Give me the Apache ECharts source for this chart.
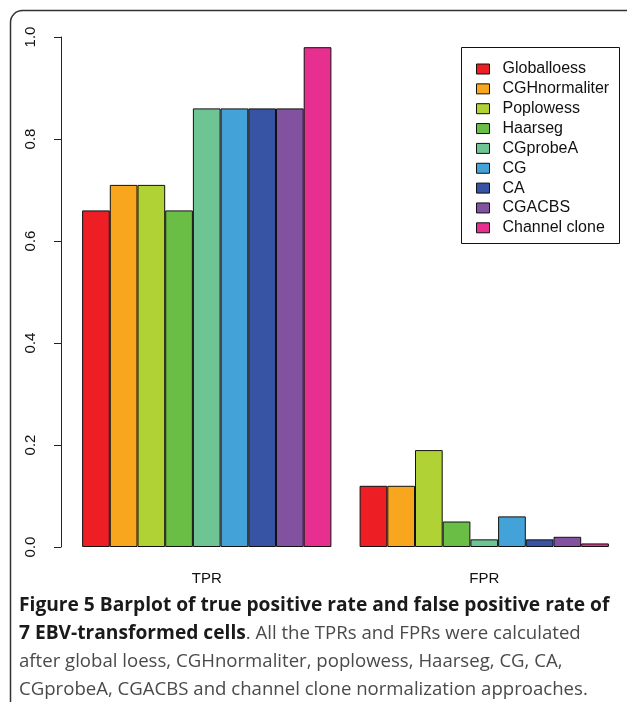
<!DOCTYPE html>
<html>
<head>
<meta charset="utf-8">
<script src="https://cdn.jsdelivr.net/npm/echarts@6/dist/echarts.min.js"></script>
<style>
  html, body { margin: 0; padding: 0; background: #fff; }
  #chart { width: 627px; height: 702px; }
</style>
</head>
<body>
<div id="chart"></div>
<script>
// Rate categories on the x axis
const categories = ['TPR', 'FPR'];

// Normalization methods (one bar series each)
const methods = ['Globalloess', 'CGHnormaliter', 'Poplowess', 'Haarseg', 'CGprobeA', 'CG', 'CA', 'CGACBS', 'Channel clone'];

// [TPR, FPR] for each method
const globalloess  = [0.66, 0.12];
const cghnormaliter = [0.71, 0.12];
const poplowess    = [0.71, 0.19];
const haarseg      = [0.66, 0.05];
const cgprobeA     = [0.86, 0.015];
const cg           = [0.86, 0.06];
const ca           = [0.86, 0.015];
const cgacbs       = [0.86, 0.02];
const channelClone = [0.98, 0.007];

const seriesValues = [globalloess, cghnormaliter, poplowess, haarseg, cgprobeA, cg, ca, cgacbs, channelClone];

const methodColors = ['#ED1F24', '#F9A61F', '#B1D235', '#6ABD45', '#6FC494', '#43A3D9', '#3753A3', '#8252A0', '#E62F8F'];

// Y axis tick labels
const yTicks = ['0.0', '0.2', '0.4', '0.6', '0.8', '1.0'];

const chart = echarts.init(document.getElementById('chart'), null, { renderer: 'canvas' });

const axisFont = 'Liberation Sans, Arial, sans-serif';
const captionFont = '"Open Sans", sans-serif';

const series = methods.map((name, i) => ({
  name: name,
  type: 'bar',
  data: seriesValues[i],
  barWidth: 27.7,
  barGap: '0%',
  itemStyle: { color: methodColors[i], borderColor: '#111', borderWidth: 1 },
  emphasis: { disabled: true },
  animation: false
}));

const option = {
  animation: false,
  backgroundColor: '#fff',
  grid: { left: 68, right: 4, top: 37, bottom: 155, containLabel: false },
  xAxis: {
    type: 'category',
    data: categories,
    axisLine: { show: false },
    axisTick: { show: false },
    axisLabel: { color: '#111', fontFamily: axisFont, fontSize: 15, margin: 24 },
    splitLine: { show: false }
  },
  yAxis: {
    type: 'value',
    min: 0,
    max: 1,
    interval: 0.2,
    offset: 7,
    axisLine: { show: true, lineStyle: { color: '#222', width: 1 } },
    axisTick: { show: true, length: 7, lineStyle: { color: '#222', width: 1 } },
    splitLine: { show: false },
    axisLabel: {
      rotate: 90,
      margin: 23,
      color: '#111',
      fontFamily: axisFont,
      fontSize: 15,
      formatter: (v) => yTicks[Math.round(v * 5)]
    }
  },
  legend: {
    orient: 'vertical',
    left: 476,
    top: 61,
    icon: 'rect',
    itemWidth: 13,
    itemHeight: 10,
    itemGap: 3.85,
    padding: 0,
    data: methods,
    selectedMode: false,
    itemStyle: { borderColor: '#111', borderWidth: 1 },
    textStyle: { color: '#111', fontFamily: axisFont, fontSize: 16, padding: [0, 0, 0, 8] }
  },
  series: series,
  graphic: [
    // legend frame
    {
      type: 'rect',
      shape: { x: 461.5, y: 47.5, width: 158, height: 196 },
      style: { fill: 'none', stroke: '#111', lineWidth: 1 },
      silent: true
    },
    // figure frame with rounded top-left corner (runs off the right and bottom edges)
    {
      type: 'rect',
      shape: { x: 10.5, y: 10.5, width: 700, height: 800, r: [12, 0, 0, 0] },
      style: { fill: 'none', stroke: '#333', lineWidth: 1.5 },
      silent: true
    },
    // caption
    {
      type: 'text',
      left: 19,
      top: 596,
      silent: true,
      style: {
        text: '{b|Figure 5 Barplot of true positive rate and false positive rate of}\n{b|7 EBV-transformed cells}{r|. All the TPRs and FPRs were calculated}\n{r|after global loess, CGHnormaliter, poplowess, Haarseg, CG, CA,}\n{r|CGprobeA, CGACBS and channel clone normalization approaches.}',
        rich: {
          b: { fontFamily: captionFont, fontWeight: 'bold', fontSize: 19.2, lineHeight: 28, fill: '#1a1a1a' },
          r: { fontFamily: captionFont, fontWeight: 'normal', fontSize: 18.6, lineHeight: 28, fill: '#4a4a4a' }
        }
      }
    }
  ]
};

chart.setOption(option);
</script>
</body>
</html>
